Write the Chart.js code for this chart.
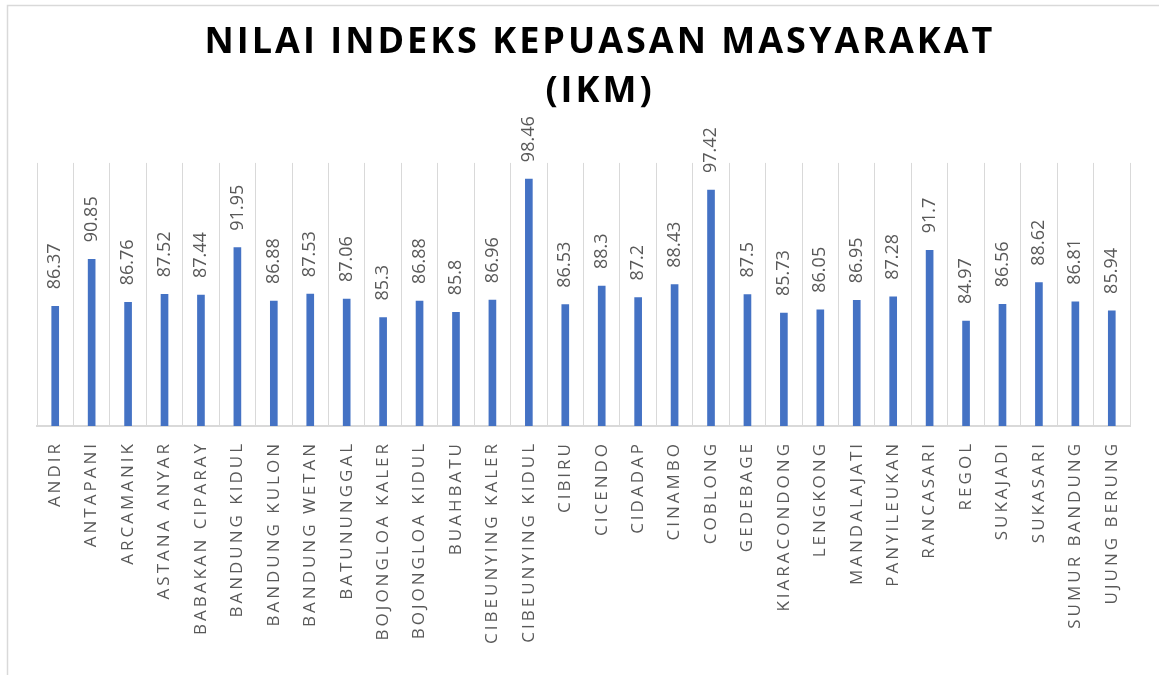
<!DOCTYPE html>
<html>
<head>
<meta charset="utf-8">
<script src="https://cdn.jsdelivr.net/npm/chart.js@4.4.1/dist/chart.umd.min.js"></script>
<style>
  html, body { margin: 0; padding: 0; background: #fff; }
  #wrap { width: 1159px; height: 675px; }
</style>
</head>
<body>
<div id="wrap"><canvas id="ikm"></canvas></div>
<script>
const kecamatan = [
  'ANDIR', 'ANTAPANI', 'ARCAMANIK', 'ASTANA ANYAR', 'BABAKAN CIPARAY',
  'BANDUNG KIDUL', 'BANDUNG KULON', 'BANDUNG WETAN', 'BATUNUNGGAL', 'BOJONGLOA KALER',
  'BOJONGLOA KIDUL', 'BUAHBATU', 'CIBEUNYING KALER', 'CIBEUNYING KIDUL', 'CIBIRU',
  'CICENDO', 'CIDADAP', 'CINAMBO', 'COBLONG', 'GEDEBAGE',
  'KIARACONDONG', 'LENGKONG', 'MANDALAJATI', 'PANYILEUKAN', 'RANCASARI',
  'REGOL', 'SUKAJADI', 'SUKASARI', 'SUMUR BANDUNG', 'UJUNG BERUNG'
];
const nilaiIkm = [
  86.37, 90.85, 86.76, 87.52, 87.44,
  91.95, 86.88, 87.53, 87.06, 85.3,
  86.88, 85.8, 86.96, 98.46, 86.53,
  88.3, 87.2, 88.43, 97.42, 87.5,
  85.73, 86.05, 86.95, 87.28, 91.7,
  84.97, 86.56, 88.62, 86.81, 85.94
];
const judul = ['NILAI INDEKS KEPUASAN MASYARAKAT', '(IKM)'];
const yMin = 75;
const yMax = 100;

// frame + letter spacing for title and category labels
const framePlugin = {
  id: 'frame',
  beforeDraw(chart) {
    const ctx = chart.ctx;
    ctx.save();
    ctx.fillStyle = '#fff';
    ctx.fillRect(0, 0, chart.width, chart.height);
    ctx.strokeStyle = '#d9d9d9';
    ctx.lineWidth = 1.5;
    ctx.strokeRect(7.5, 5.5, 1300, 800);
    ctx.restore();
    ctx.letterSpacing = '3px';
  },
  afterDraw(chart) {
    chart.ctx.letterSpacing = '0px';
  }
};

// value labels above each bar, rotated like the original
const valueLabels = {
  id: 'valueLabels',
  afterDatasetsDraw(chart) {
    const ctx = chart.ctx;
    const meta = chart.getDatasetMeta(0);
    ctx.save();
    ctx.letterSpacing = '0px';
    ctx.font = '18px "Open Sans", sans-serif';
    ctx.fillStyle = '#595959';
    ctx.textAlign = 'left';
    ctx.textBaseline = 'middle';
    meta.data.forEach((bar, i) => {
      ctx.save();
      ctx.translate(bar.x, bar.y - 17);
      ctx.rotate(-Math.PI / 2);
      ctx.fillText(String(nilaiIkm[i]), 0, 0);
      ctx.restore();
    });
    ctx.restore();
  }
};

new Chart(document.getElementById('ikm'), {
  type: 'bar',
  data: {
    labels: kecamatan,
    datasets: [{
      label: 'IKM',
      data: nilaiIkm,
      backgroundColor: '#4472C4',
      barThickness: 7
    }]
  },
  options: {
    responsive: true,
    maintainAspectRatio: false,
    animation: false,
    layout: { padding: { top: 18, left: 37, right: -4, bottom: 0 } },
    plugins: {
      legend: { display: false },
      tooltip: { enabled: false },
      title: {
        display: true,
        text: judul,
        color: '#000',
        font: { family: '"Open Sans", sans-serif', size: 36, weight: 'bold', lineHeight: 1.36 },
        padding: { top: 0, bottom: 47 }
      }
    },
    scales: {
      x: {
        grid: { color: '#d9d9d9', lineWidth: 1, drawTicks: false, offset: true },
        border: { color: '#d9d9d9', width: 2 },
        ticks: {
          color: '#595959',
          font: { family: '"Open Sans", sans-serif', size: 17 },
          minRotation: 90,
          maxRotation: 90,
          padding: 15,
          autoSkip: false
        },
        afterFit(scale) { scale.height = 249; }
      },
      y: {
        position: 'right',
        min: yMin,
        max: yMax,
        grid: { display: false },
        border: { display: false },
        ticks: { display: false },
        afterFit(scale) { scale.width = 33; }
      }
    }
  },
  plugins: [framePlugin, valueLabels]
});
</script>
</body>
</html>
